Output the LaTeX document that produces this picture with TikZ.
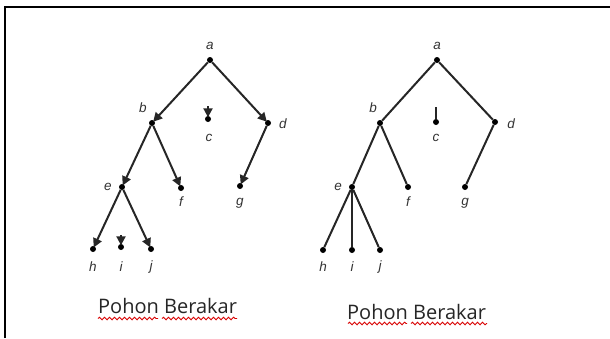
\documentclass[tikz,border=0pt]{standalone}
\usepackage{fontspec}
\setmainfont{Open Sans}
\newfontfamily\lblfont{Liberation Sans}
\usetikzlibrary{arrows.meta,decorations.pathmorphing}
\begin{document}
\begin{tikzpicture}[x=1pt,y=-1pt,
  dot/.style={circle,fill=black,inner sep=0pt,minimum size=6pt},
  lbl/.style={font=\lblfont\itshape\fontsize{13.5}{15}\selectfont,text=black!80,inner sep=0pt},
  edge/.style={line width=2pt,draw=black!85},
  arr/.style={edge,-{Triangle[length=9pt,width=9pt]},shorten >=-1.5pt},
  caption/.style={font=\fontsize{20}{22}\selectfont,text=black!85,inner sep=0pt},
  wavy/.style={draw=red!85!black,line width=0.9pt,decorate,
    decoration={snake,amplitude=1.3pt,segment length=5pt}}]
\useasboundingbox (0,0) rectangle (610,338);
\fill[white] (0,0) rectangle (610,338);
% frame
\draw[line width=2pt,black] (5,338) -- (5,6.5) -- (610,6.5);

% ---- left tree (directed) ----
\node[dot] (La) at (210,60) {};
\node[dot] (Lb) at (152,123) {};
\node[dot] (Lc) at (208,119) {};
\node[dot] (Ld) at (268,123) {};
\node[dot] (Le) at (122,187) {};
\node[dot] (Lf) at (181,188) {};
\node[dot] (Lg) at (240,186) {};
\node[dot] (Lh) at (93,249) {};
\node[dot] (Li) at (121,247) {};
\node[dot] (Lj) at (151,249) {};
\coordinate (Lct) at (208,106);
\coordinate (Lit) at (121,235);
\draw[arr] (La) -- (Lb);
\draw[arr] (La) -- (Ld);
\draw[arr] (Lb) -- (Le);
\draw[arr] (Lb) -- (Lf);
\draw[arr] (Ld) -- (Lg);
\draw[arr] (Le) -- (Lh);
\draw[arr] (Le) -- (Lj);
\draw[arr] (Lct) -- (Lc);
\draw[arr] (Lit) -- (Li);
\node[lbl] (La-l) at (210,46) {a};
\node[lbl] (Lb-l) at (143,108) {b};
\node[lbl] (Lc-l) at (209,138) {c};
\node[lbl] (Ld-l) at (283,124) {d};
\node[lbl] (Le-l) at (108,187) {e};
\node[lbl] (Lf-l) at (181,202) {f};
\node[lbl] (Lg-l) at (240,203) {g};
\node[lbl] (Lh-l) at (93,267) {h};
\node[lbl] (Li-l) at (121,267) {i};
\node[lbl] (Lj-l) at (151,267) {j};

% ---- right tree (undirected) ----
\node[dot] (Ra) at (437,60) {};
\node[dot] (Rb) at (380,123) {};
\node[dot] (Rc) at (436,122) {};
\node[dot] (Rd) at (495,122) {};
\node[dot] (Re) at (352,187) {};
\node[dot] (Rf) at (408,187) {};
\node[dot] (Rg) at (465,187) {};
\node[dot] (Rh) at (323,250) {};
\node[dot] (Ri) at (352,250) {};
\node[dot] (Rj) at (380,250) {};
\coordinate (Rct) at (436,107);
\draw[edge] (Ra) -- (Rb);
\draw[edge] (Ra) -- (Rd);
\draw[edge] (Rb) -- (Re);
\draw[edge] (Rb) -- (Rf);
\draw[edge] (Rd) -- (Rg);
\draw[edge] (Re) -- (Rh);
\draw[edge,line width=1.5pt] (Re) -- (Ri);
\draw[edge] (Re) -- (Rj);
\draw[edge,line width=1.5pt] (Rct) -- (Rc);
\node[lbl] (Ra-l) at (437,46) {a};
\node[lbl] (Rb-l) at (373,108) {b};
\node[lbl] (Rc-l) at (436,138) {c};
\node[lbl] (Rd-l) at (511,124) {d};
\node[lbl] (Re-l) at (338,187) {e};
\node[lbl] (Rf-l) at (408,202) {f};
\node[lbl] (Rg-l) at (465,203) {g};
\node[lbl] (Rh-l) at (323,267) {h};
\node[lbl] (Ri-l) at (352,267) {i};
\node[lbl] (Rj-l) at (380,267) {j};

% ---- captions with spell-check underline ----
\node[caption,anchor=base west] (capL) at (98,313) {Pohon Berakar};
\node[caption,anchor=base west] (capR) at (347,319) {Pohon Berakar};
\draw[wavy] (98,318.5) -- (158,318.5);
\draw[wavy] (162,318.5) -- (237,318.5);
\draw[wavy] (348,323.5) -- (407,323.5);
\draw[wavy] (411,323.5) -- (487,323.5);
\end{tikzpicture}
\end{document}
